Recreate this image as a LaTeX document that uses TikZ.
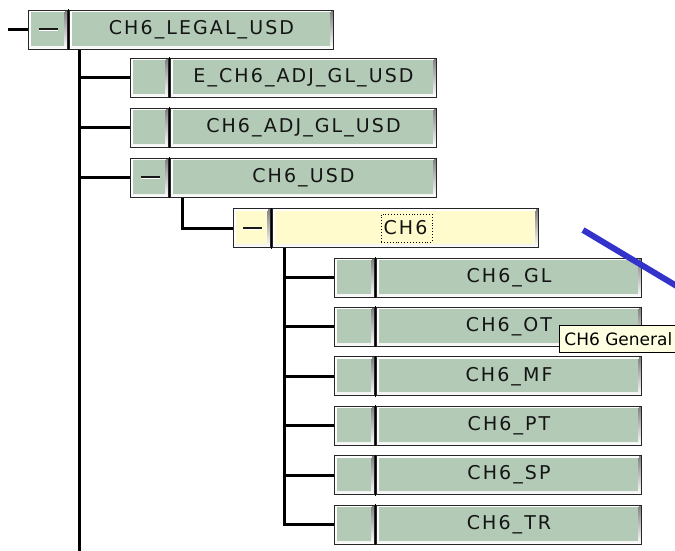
\documentclass[tikz,border=0pt]{standalone}
\usepackage{fontspec}
\newfontfamily\boxfont[LetterSpace=11]{DejaVu Sans}
\newfontfamily\tipfont{DejaVu Sans}
\definecolor{boxgreen}{RGB}{178,202,182}
\definecolor{boxyellow}{RGB}{255,251,204}
\definecolor{shade}{RGB}{128,128,128}
\definecolor{tipyellow}{RGB}{255,255,225}
\definecolor{bluel}{RGB}{51,51,204}
\definecolor{txt}{RGB}{20,20,20}
\tikzset{
  bevel/.style={draw=black!85, line width=1pt, inner sep=0pt, minimum height=39pt,
    anchor=west, text=txt, font=\boxfont\fontsize{19}{19}\selectfont,
    path picture={
      \fill[shade] ([shift={(0.5pt,0.5pt)}]path picture bounding box.south west) rectangle ([shift={(-0.5pt,3pt)}]path picture bounding box.south east);
      \fill[shade] ([shift={(-3pt,0.5pt)}]path picture bounding box.south east) rectangle ([shift={(-0.5pt,-0.5pt)}]path picture bounding box.north east);
      \fill[white] ([shift={(0.5pt,-0.5pt)}]path picture bounding box.north west) rectangle ([shift={(-3pt,-2pt)}]path picture bounding box.north east);
      \fill[white] ([shift={(0.5pt,-0.5pt)}]path picture bounding box.north west) rectangle ([shift={(2pt,3pt)}]path picture bounding box.south west);
    }},
  gbtn/.style={bevel, fill=boxgreen},
  ybtn/.style={bevel, fill=boxyellow},
  conn/.style={line width=3pt, black},
}
\newcommand{\mysign}[1]{%
  \draw[line width=2pt, black!90] ([xshift=-9pt,yshift=0.5pt]#1.center) -- ([xshift=10pt,yshift=0.5pt]#1.center);
  \draw[line width=1pt, white] ([xshift=-9pt,yshift=-1.3pt]#1.center) -- ([xshift=10pt,yshift=-1.3pt]#1.center);}
\newcommand{\sep}[2]{\fill[black] ([yshift=0.5pt]#1.north east) rectangle ([yshift=-0.5pt]#2.south west);}
\begin{document}
\begin{tikzpicture}[x=1pt,y=-1pt]
\clip (0,0) rectangle (675,550);
\fill[white] (0,0) rectangle (675,550);
% level 1
\node[gbtn, minimum width=39pt] (s1) at (28,29.5) {};
\node[gbtn, minimum width=264pt] (m1) at (69,29.5) {CH6\_LEGAL\_USD};
% level 2
\node[gbtn, minimum width=38pt] (s2) at (130,77.5) {};
\node[gbtn, minimum width=266pt] (m2) at (170,77.5) {E\_CH6\_ADJ\_GL\_USD};
\node[gbtn, minimum width=38pt] (s3) at (130,127.5) {};
\node[gbtn, minimum width=266pt] (m3) at (170,127.5) {CH6\_ADJ\_GL\_USD};
\node[gbtn, minimum width=38pt] (s4) at (130,177.5) {};
\node[gbtn, minimum width=266pt] (m4) at (170,177.5) {CH6\_USD};
% level 3
\node[ybtn, minimum width=37pt] (s5) at (233,228) {};
\node[ybtn, minimum width=266pt] (m5) at (272,228) {CH6};
\node[draw=black, dotted, line width=0.9pt, minimum width=51pt, minimum height=28pt] (focus) at ([xshift=1pt]m5.center) {};
% level 4
\foreach \i/\yy/\t in {6/277.5/GL, 7/326.9/OT, 8/376.3/MF, 9/425.7/PT, 10/475.1/SP, 11/524.5/TR}{
  \node[gbtn, minimum width=40pt] (s\i) at (334,\yy) {};
  \node[gbtn, minimum width=265pt] (m\i) at (376,\yy) {CH6\_\t};
  \sep{s\i}{m\i}
}
\sep{s1}{m1}\sep{s2}{m2}\sep{s3}{m3}\sep{s4}{m4}\sep{s5}{m5}
\mysign{s1}\mysign{s4}\mysign{s5}
% connectors
\coordinate (stub) at (8,29.5);
\coordinate (tk) at (79,552);
\coordinate (u) at (182,0);
\coordinate (c) at (284,0);
\draw[conn] (stub) -- (s1.west);
\draw[conn] (tk |- m1.south) -- (tk);
\foreach \i in {2,3,4}{\draw[conn] (s\i.west) -- (s\i.west -| tk);}
\draw[conn] (u |- m4.south) |- (s5.west);
\draw[conn] (c |- m5.south) |- (s11.west);
\foreach \i in {6,7,8,9,10}{\draw[conn] (s\i.west) -- (s\i.west -| c);}
% blue line
\coordinate (b1) at (583,230);
\coordinate (b2) at (690,294);
\draw[bluel, line width=6pt] (b1) -- (b2);
% tooltip
\node[draw=black, line width=0.8pt, fill=tipyellow, anchor=north west, minimum height=27pt,
  inner xsep=5pt, inner ysep=0pt, text=black, font=\tipfont\fontsize{17}{17}\selectfont] (tip) at (559,325) {CH6 General\hspace{12pt}};
\end{tikzpicture}
\end{document}
